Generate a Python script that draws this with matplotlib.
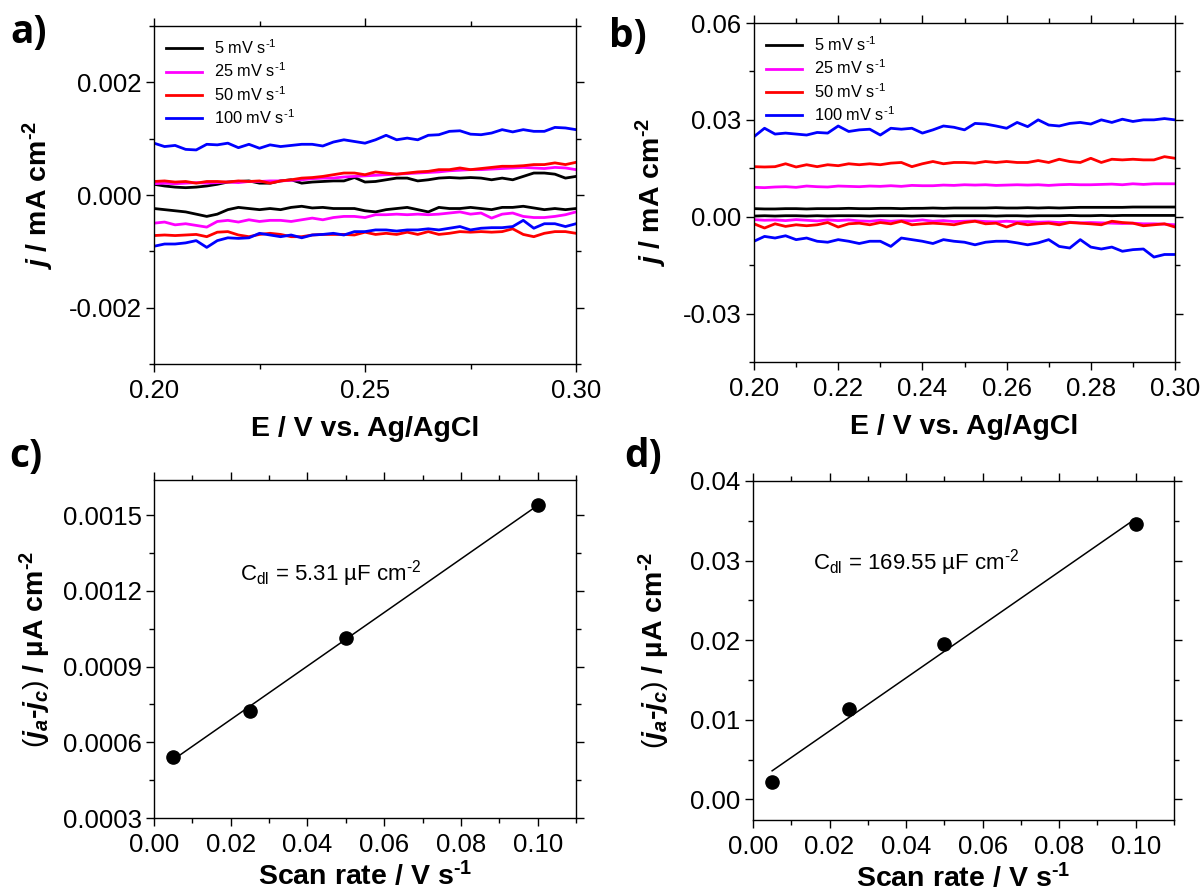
import numpy as np
import matplotlib
matplotlib.use('Agg')
import matplotlib.pyplot as plt
from matplotlib.ticker import MultipleLocator, FormatStrFormatter

plt.rcParams['font.family'] = ['Liberation Sans', 'DejaVu Sans']
plt.rcParams['mathtext.fontset'] = 'custom'
plt.rcParams['mathtext.rm'] = 'Liberation Sans'
plt.rcParams['mathtext.it'] = 'Liberation Sans:italic:bold'
plt.rcParams['mathtext.bf'] = 'Liberation Sans:bold'

HY = '\u2010'  # short hyphen used in the superscripts

# ---------------- data ----------------
potential = np.linspace(0.20, 0.30, 41)   # E / V vs Ag/AgCl sample grid

scan_labels = ['5 mV s$\\mathregular{^{%s1}}$' % HY, '25 mV s$\\mathregular{^{%s1}}$' % HY,
               '50 mV s$\\mathregular{^{%s1}}$' % HY, '100 mV s$\\mathregular{^{%s1}}$' % HY]
scan_colors = ['black', '#ff00ff', 'red', 'blue']

# panel a (values in 1e-3 mA cm-2)
a_black_up = [0.19,0.16,0.14,0.13,0.14,0.16,0.19,0.23,0.24,0.25,0.21,0.21,0.25,0.27,0.21,0.23,0.24,0.25,0.25,0.31,0.23,0.24,0.27,0.30,0.30,0.25,0.27,0.30,0.31,0.30,0.31,0.30,0.27,0.30,0.27,0.33,0.39,0.39,0.37,0.30,0.33]
a_black_low = [-0.24,-0.26,-0.28,-0.30,-0.34,-0.38,-0.34,-0.26,-0.22,-0.24,-0.26,-0.24,-0.26,-0.22,-0.20,-0.23,-0.22,-0.24,-0.24,-0.24,-0.28,-0.30,-0.26,-0.24,-0.22,-0.26,-0.30,-0.22,-0.24,-0.24,-0.22,-0.24,-0.26,-0.22,-0.22,-0.20,-0.23,-0.26,-0.24,-0.26,-0.24]
a_mag_up = [0.20,0.21,0.20,0.21,0.22,0.21,0.22,0.23,0.22,0.24,0.24,0.25,0.25,0.26,0.27,0.29,0.30,0.30,0.32,0.33,0.34,0.35,0.36,0.37,0.38,0.39,0.40,0.41,0.43,0.44,0.45,0.45,0.46,0.47,0.48,0.49,0.48,0.47,0.49,0.48,0.45]
a_mag_low = [-0.50,-0.48,-0.53,-0.51,-0.54,-0.57,-0.47,-0.45,-0.48,-0.44,-0.47,-0.45,-0.45,-0.47,-0.44,-0.41,-0.44,-0.40,-0.38,-0.38,-0.40,-0.35,-0.35,-0.34,-0.35,-0.34,-0.35,-0.34,-0.32,-0.30,-0.34,-0.32,-0.41,-0.34,-0.32,-0.38,-0.40,-0.40,-0.38,-0.35,-0.30]
a_red_up = [0.24,0.25,0.23,0.24,0.21,0.24,0.24,0.23,0.25,0.24,0.25,0.21,0.25,0.27,0.30,0.31,0.33,0.36,0.39,0.39,0.36,0.41,0.39,0.37,0.39,0.41,0.42,0.45,0.45,0.48,0.45,0.47,0.49,0.51,0.51,0.52,0.54,0.54,0.57,0.54,0.58]
a_red_low = [-0.72,-0.71,-0.72,-0.71,-0.70,-0.74,-0.66,-0.65,-0.71,-0.74,-0.70,-0.68,-0.70,-0.74,-0.74,-0.71,-0.70,-0.70,-0.70,-0.71,-0.66,-0.70,-0.68,-0.70,-0.66,-0.70,-0.65,-0.70,-0.68,-0.65,-0.66,-0.65,-0.66,-0.65,-0.60,-0.70,-0.74,-0.68,-0.65,-0.65,-0.68]
a_blue_up = [0.92,0.86,0.88,0.81,0.80,0.90,0.89,0.92,0.84,0.90,0.83,0.89,0.86,0.88,0.90,0.90,0.87,0.94,0.98,0.95,0.92,0.98,1.06,0.98,1.01,0.98,1.06,1.07,1.13,1.14,1.08,1.07,1.10,1.16,1.12,1.16,1.13,1.13,1.20,1.19,1.16]
a_blue_low = [-0.91,-0.87,-0.87,-0.85,-0.81,-0.93,-0.81,-0.76,-0.77,-0.76,-0.68,-0.71,-0.74,-0.71,-0.76,-0.71,-0.70,-0.68,-0.71,-0.65,-0.65,-0.62,-0.62,-0.64,-0.62,-0.62,-0.60,-0.62,-0.59,-0.56,-0.62,-0.59,-0.58,-0.58,-0.56,-0.45,-0.59,-0.51,-0.51,-0.56,-0.51]

# panel b (values in 1e-3 mA cm-2)
b_black_up = [2.5,2.4,2.4,2.5,2.5,2.4,2.5,2.5,2.5,2.6,2.5,2.5,2.6,2.6,2.5,2.6,2.6,2.7,2.6,2.7,2.7,2.7,2.7,2.8,2.7,2.7,2.8,2.7,2.8,2.7,2.8,2.9,2.9,2.9,2.9,2.9,3.0,3.0,3.0,3.0,3.0]
b_black_low = [0.2,0.3,0.2,0.3,0.3,0.2,0.3,0.2,0.3,0.3,0.3,0.2,0.3,0.3,0.3,0.2,0.3,0.3,0.2,0.3,0.3,0.3,0.3,0.2,0.3,0.3,0.2,0.3,0.3,0.3,0.4,0.3,0.3,0.4,0.3,0.4,0.4,0.4,0.4,0.4,0.4]
b_mag_up = [9.1,9.0,9.2,9.3,9.1,9.5,9.3,9.2,9.5,9.4,9.3,9.5,9.4,9.6,9.4,9.7,9.6,9.6,9.8,9.7,9.9,9.8,9.9,9.7,9.8,9.9,9.8,9.9,9.7,9.9,10.0,9.9,9.9,10.0,10.1,9.9,10.2,10.0,10.2,10.2,10.2]
b_mag_low = [-0.9,-1.1,-1.0,-1.2,-0.9,-1.1,-1.3,-1.0,-1.2,-1.0,-1.3,-1.4,-1.1,-1.4,-1.2,-1.3,-1.0,-1.4,-1.2,-1.5,-1.4,-1.3,-1.5,-1.6,-1.4,-1.6,-1.5,-1.7,-1.6,-1.8,-1.7,-1.9,-1.8,-1.9,-2.0,-2.1,-2.0,-2.2,-2.2,-2.3,-2.5]
b_red_up = [15.5,15.4,15.5,16.4,15.4,16.1,15.5,16.1,15.8,16.4,16.1,16.4,16.1,16.6,16.8,15.5,16.4,17.1,16.4,16.8,16.8,16.6,17.1,16.8,17.1,16.8,16.8,17.4,16.8,17.8,17.1,16.8,18.1,16.8,17.8,17.6,17.8,17.6,17.6,18.6,18.1]
b_red_low = [-2.2,-3.5,-2.2,-3.0,-2.5,-2.8,-2.5,-1.8,-3.2,-2.2,-2.0,-2.5,-1.8,-2.2,-1.4,-2.5,-2.2,-2.0,-2.2,-2.5,-1.8,-1.4,-2.2,-2.0,-3.2,-2.0,-2.5,-2.2,-2.0,-2.5,-1.8,-2.0,-2.2,-2.5,-1.4,-1.8,-2.0,-2.8,-2.5,-2.2,-3.2]
b_blue_up = [24.8,27.4,25.6,25.9,25.6,25.3,26.1,25.9,28.1,26.4,26.9,27.1,25.3,27.4,27.1,27.4,25.9,26.9,28.1,27.7,26.9,28.9,28.7,28.1,27.4,29.2,27.9,30.0,28.4,28.1,28.9,29.2,28.7,30.0,29.2,30.2,29.5,30.0,30.0,30.4,30.0]
b_blue_low = [-7.6,-6.1,-6.6,-5.9,-7.1,-6.6,-7.6,-7.9,-7.1,-7.6,-8.3,-7.6,-7.6,-9.2,-6.6,-7.1,-7.6,-8.3,-7.1,-7.6,-7.9,-8.7,-7.9,-7.6,-7.6,-8.1,-8.7,-8.1,-7.1,-9.2,-9.7,-7.1,-9.4,-10.0,-9.4,-10.7,-10.2,-10.0,-12.5,-11.7,-11.7]

# panels c, d
scan_rate = [0.005, 0.025, 0.05, 0.10]
c_diff = [0.000542, 0.000725, 0.001015, 0.00154]
d_diff = [0.0022, 0.0114, 0.0195, 0.0346]
c_text = 'C$\\mathregular{_{dl}}$ = 5.31 µF cm$\\mathregular{^{%s2}}$' % HY
d_text = 'C$\\mathregular{_{dl}}$ = 169.55 µF cm$\\mathregular{^{%s2}}$' % HY

# ---------------- figure ----------------
W, H = 1201, 892
fig = plt.figure(figsize=(W / 100, H / 100), dpi=100)

def box(l, t, r, b):
    return [l / W, 1 - b / H, (r - l) / W, (b - t) / H]

ax_a = fig.add_axes(box(154, 26, 576, 364))
ax_b = fig.add_axes(box(754, 23, 1175, 362))
ax_c = fig.add_axes(box(154, 480, 576, 818))
ax_d = fig.add_axes(box(753, 481, 1174, 820))

TICK_FS = 18.5
LABEL_FS = 20.5

def style(ax):
    for s in ax.spines.values():
        s.set_linewidth(1.0)
    ax.tick_params(which='both', direction='out', top=True, right=True,
                   labeltop=False, labelright=False, labelsize=TICK_FS, width=1.0)
    ax.tick_params(which='major', length=6)
    ax.tick_params(which='minor', length=3.5)
    ax.tick_params(axis='x', which='major', pad=5)
    ax.tick_params(axis='y', which='major', pad=3)

# panel a
a_sets = [(a_black_up, a_black_low), (a_mag_up, a_mag_low),
          (a_red_up, a_red_low), (a_blue_up, a_blue_low)]
for (up, low), col, lab in zip(a_sets, scan_colors, scan_labels):
    ax_a.plot(potential, np.array(up) * 1e-3, color=col, lw=2.0, label=lab)
    ax_a.plot(potential, np.array(low) * 1e-3, color=col, lw=2.0)
ax_a.set_xlim(0.20, 0.30)
ax_a.set_ylim(-0.003, 0.003)
ax_a.xaxis.set_major_locator(MultipleLocator(0.05))
ax_a.xaxis.set_minor_locator(MultipleLocator(0.025))
ax_a.yaxis.set_major_locator(MultipleLocator(0.002))
ax_a.yaxis.set_minor_locator(MultipleLocator(0.001))
ax_a.xaxis.set_major_formatter(FormatStrFormatter('%.2f'))
ax_a.yaxis.set_major_formatter(FormatStrFormatter('%.3f'))

# panel b
b_sets = [(b_black_up, b_black_low), (b_mag_up, b_mag_low),
          (b_red_up, b_red_low), (b_blue_up, b_blue_low)]
for (up, low), col, lab in zip(b_sets, scan_colors, scan_labels):
    ax_b.plot(potential, np.array(up) * 1e-3, color=col, lw=2.0, label=lab)
    ax_b.plot(potential, np.array(low) * 1e-3, color=col, lw=2.0)
ax_b.set_xlim(0.20, 0.30)
ax_b.set_ylim(-0.045, 0.06)
ax_b.xaxis.set_major_locator(MultipleLocator(0.02))
ax_b.xaxis.set_minor_locator(MultipleLocator(0.01))
ax_b.yaxis.set_major_locator(MultipleLocator(0.03))
ax_b.yaxis.set_minor_locator(MultipleLocator(0.015))
ax_b.xaxis.set_major_formatter(FormatStrFormatter('%.2f'))
ax_b.yaxis.set_major_formatter(FormatStrFormatter('%.2f'))

for ax, lp in ((ax_a, 9), (ax_b, 10)):
    style(ax)
    ax.set_xlabel('E / V vs. Ag/AgCl', fontsize=LABEL_FS, fontweight='bold', labelpad=9)
    ax.set_ylabel('$j$ / mA cm$\\mathregular{^{%s2}}$' % HY, fontsize=LABEL_FS,
                  fontweight='bold', labelpad=lp)
    ax.legend(loc='upper left', frameon=False, fontsize=11.8, handlelength=2.2,
              handletextpad=0.7, labelspacing=0.28, borderaxespad=0.35,
              bbox_to_anchor=(0.0, 1.0))

# panels c, d
for ax, vals, lp in ((ax_c, c_diff, 7), (ax_d, d_diff, 13)):
    slope, icpt = np.polyfit(scan_rate, vals, 1)
    xs = np.array([scan_rate[0], scan_rate[-1]])
    ax.plot(xs, slope * xs + icpt, color='black', lw=1.1, zorder=2)
    ax.plot(scan_rate, vals, 'o', color='black', ms=9.5, zorder=3)
    ax.set_xlim(0.0, 0.11)
    ax.xaxis.set_major_locator(MultipleLocator(0.02))
    ax.xaxis.set_minor_locator(MultipleLocator(0.01))
    ax.xaxis.set_major_formatter(FormatStrFormatter('%.2f'))
    style(ax)
    ax.set_xlabel('Scan rate / V s$\\mathregular{^{%s1}}$' % HY, fontsize=LABEL_FS,
                  fontweight='bold', labelpad=3)
    ax.set_ylabel('$(j_a$-$j_c)$ / µA cm$\\mathregular{^{%s2}}$' % HY, fontsize=LABEL_FS,
                  fontweight='bold', labelpad=lp)

ax_c.set_ylim(0.0003, 0.00164)
ax_c.yaxis.set_major_locator(MultipleLocator(0.0003))
ax_c.yaxis.set_minor_locator(MultipleLocator(0.00015))
ax_c.yaxis.set_major_formatter(FormatStrFormatter('%.4f'))
ax_c.text(0.0225, 0.00127, c_text, fontsize=16, va='center', ha='left')

ax_d.set_ylim(-0.0026, 0.04)
ax_d.yaxis.set_major_locator(MultipleLocator(0.01))
ax_d.yaxis.set_minor_locator(MultipleLocator(0.005))
ax_d.yaxis.set_major_formatter(FormatStrFormatter('%.2f'))
ax_d.text(0.0158, 0.0298, d_text, fontsize=16, va='center', ha='left')

# panel letters
for lab, x, y in (('a)', 10, 33), ('b)', 609, 36), ('c)', 9, 456), ('d)', 624, 457)):
    fig.text(x / W, 1 - y / H, lab, fontsize=28, fontweight='bold',
             family=['Open Sans', 'DejaVu Sans'], ha='left', va='center')

fig.savefig('out.png', dpi=100)
